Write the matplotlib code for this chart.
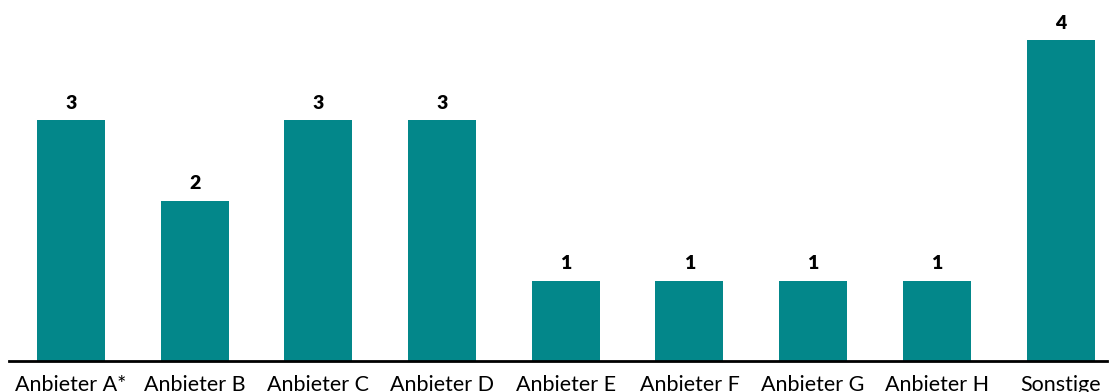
import matplotlib.pyplot as plt

categories = ['Anbieter A*', 'Anbieter B', 'Anbieter C', 'Anbieter D', 'Anbieter E',
              'Anbieter F', 'Anbieter G', 'Anbieter H', 'Sonstige']
values = [3, 2, 3, 3, 1, 1, 1, 1, 4]

plt.rcParams['font.family'] = ['Lato', 'DejaVu Sans']

fig = plt.figure(figsize=(11.09, 3.92), dpi=100)
ax = fig.add_axes([9 / 1109, 31 / 392, 1098 / 1109, 361 / 392])

x = range(len(categories))
bars = ax.bar(x, values, width=0.55, color='#03878A')

for xi, v in zip(x, values):
    ax.annotate(str(v), (xi, v), xytext=(0, 6), textcoords='offset points',
                ha='center', va='bottom', fontsize=14, fontweight='heavy')

ax.set_xlim(-0.5, 8.375)
ax.set_ylim(0, 4.5)
ax.set_xticks(list(x))
ax.set_xticklabels(categories, fontsize=15.5)
ax.tick_params(axis='x', length=0, pad=10)
ax.set_yticks([])
for side in ['top', 'right', 'left']:
    ax.spines[side].set_visible(False)
ax.spines['bottom'].set_linewidth(2)

fig.savefig('out.png', dpi=100)
